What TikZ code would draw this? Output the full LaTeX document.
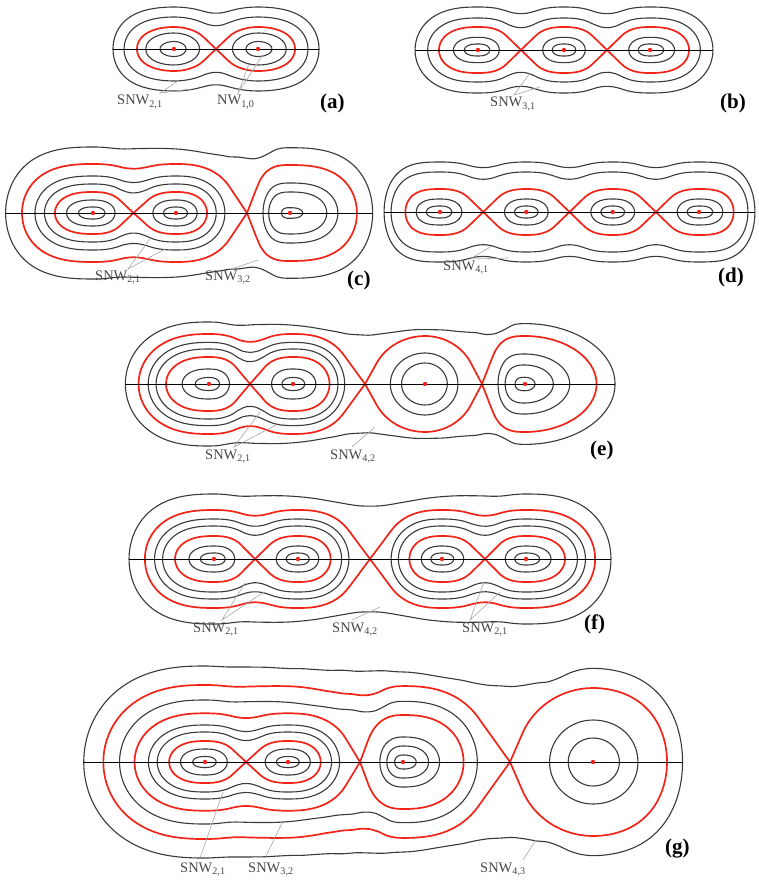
\documentclass[tikz,border=0pt]{standalone}
\usepackage{tikz}
\usepackage{fontspec}
\setmainfont{Liberation Serif}
\definecolor{crv}{RGB}{58,58,58}
\definecolor{sep}{RGB}{242,36,24}
\definecolor{labc}{RGB}{72,72,72}
\definecolor{lead}{RGB}{168,168,168}
\makeatletter
\newcount\bisecti
\def\halfpow#1#2#3{\ifcase#2\relax\def#1{1}\or\pgfmathsetmacro#1{sqrt(#3)}\or\edef#1{#3}\or\pgfmathsetmacro#1{#3*sqrt(#3)}\fi}
\def\vpowparse{\ifcase\vke\relax
  \pgfmathparse{\vd+\vA*\vu*\vu+(\vQ*\vu*\vu)*(\vQ*\vu*\vu)}\or
  \pgfmathparse{\vd+\vA*\vu*\vu*sqrt(\vu)+(\vQ*\vu*\vu)*(\vQ*\vu*\vu)}\or
  \pgfmathparse{\vd+\vA*\vu*\vu*\vu+(\vQ*\vu*\vu)*(\vQ*\vu*\vu)}\or
  \pgfmathparse{\vd+\vA*\vu*\vu*\vu*sqrt(\vu)+(\vQ*\vu*\vu)*(\vQ*\vu*\vu)}\fi}
\pgfmathdeclarefunction{VV}{1}{%
  \begingroup
  \edef\vx{#1}%
  \edef\vcf{\csname cw0\endcsname}%
  \edef\vcl{\csname cw\NWl\endcsname}%
  \ifdim\vx pt<\vcf pt
    \edef\vu{\strip@pt\dimexpr(\vcf pt-\vx pt)/10\relax}%
    \edef\vd{\csname dw0\endcsname}%
    \let\vA\EAL\let\vke\EKL\let\vQ\EQL
    \vpowparse
  \else\ifdim\vx pt>\vcl pt
    \edef\vu{\strip@pt\dimexpr(\vx pt-\vcl pt)/10\relax}%
    \edef\vd{\csname dw\NWl\endcsname}%
    \let\vA\EAR\let\vke\EKR\let\vQ\EQR
    \vpowparse
  \else
    \def\K{0}%
    \ifnum\NW>2 \ifdim\vx pt>\csname cw1\endcsname pt \def\K{1}\fi\fi
    \ifnum\NW>3 \ifdim\vx pt>\csname cw2\endcsname pt \def\K{2}\fi\fi
    \edef\vm{\csname sm\K\endcsname}%
    \edef\vs{\csname ss\K\endcsname}%
    \def\vQ{0}%
    \ifdim\vx pt<\vm pt
      \ifdim\vx pt<\csname pL\K\endcsname pt
        \edef\vc{\csname cw\K\endcsname}%
        \edef\vu{\strip@pt\dimexpr(\vx pt-\vc pt)/10\relax}%
        \edef\vd{\csname dw\K\endcsname}%
        \edef\vA{\csname aL\K\endcsname}%
        \edef\vke{\csname kw\K\endcsname}%
        \vpowparse
      \else
        \edef\vB{\csname bL\K\endcsname}%
        \edef\vw{\strip@pt\dimexpr(\vm pt-\vx pt)/10\relax}%
        \pgfmathparse{\vs-\vB*\vw*\vw}%
      \fi
    \else
      \edef\Kn{\the\numexpr\K+1\relax}%
      \ifdim\vx pt>\csname pR\K\endcsname pt
        \edef\vc{\csname cw\Kn\endcsname}%
        \edef\vu{\strip@pt\dimexpr(\vc pt-\vx pt)/10\relax}%
        \edef\vd{\csname dw\Kn\endcsname}%
        \edef\vA{\csname aR\K\endcsname}%
        \edef\vke{\csname kw\Kn\endcsname}%
        \vpowparse
      \else
        \edef\vB{\csname bR\K\endcsname}%
        \edef\vw{\strip@pt\dimexpr(\vx pt-\vm pt)/10\relax}%
        \pgfmathparse{\vs-\vB*\vw*\vw}%
      \fi
    \fi
  \fi\fi
  \pgfmath@smuggleone\pgfmathresult
  \endgroup}
% smoothed potential (for the outer curves), tapered to zero at the outer wells
\pgfmathdeclarefunction{VS}{1}{%
  \begingroup
  \pgfmathsetmacro\lw{\smw*min(1,max(0,(#1-\smL)/50))*min(1,max(0,(\smR-#1)/50))}%
  \ifdim\lw pt<0.5pt
    \pgfmathparse{VV(#1)}%
  \else
    \pgfmathparse{(VV(#1-\lw)+2*VV(#1-\lw/2)+3*VV(#1)+2*VV(#1+\lw/2)+VV(#1+\lw))/9}%
  \fi
  \pgfmath@smuggleone\pgfmathresult
  \endgroup}
\newcommand\findroot[4]{%
  \edef\frin{#3}\edef\frout{#4}%
  \bisecti=0
  \loop
    \edef\frmid{\strip@pt\dimexpr(\frin pt+\frout pt)/2\relax}%
    \pgfmathparse{\rootfn(\frmid)}%
    \ifdim\pgfmathresult pt>#2pt \let\frout\frmid \else \let\frin\frmid \fi
    \advance\bisecti by 1
  \ifnum\bisecti<17 \repeat
  \edef#1{\frin}}
\makeatother
\def\rootfn{VV}\def\smw{0}\def\smL{0}\def\smR{0}
\newcommand\setNW[1]{\def\NW{#1}\edef\NWl{\the\numexpr#1-1\relax}}
\newcommand\setends[6]{\def\EAL{#1}\def\EKL{#2}\def\EQL{#3}\def\EAR{#4}\def\EKR{#5}\def\EQR{#6}}
\newcommand\defwell[4]{\expandafter\def\csname cw#1\endcsname{#2}\expandafter\def\csname dw#1\endcsname{#3}\expandafter\def\csname kw#1\endcsname{#4}}
\newcommand\segconst[6]{% c, m, s, d, phi, k
  \pgfmathsetmacro\tL{abs(#2-#1)/10}%
  \pgfmathsetmacro\tD{#3-#4}%
  \halfpow\tphk{#6}{#5}%
  \pgfmathsetmacro\tpq{#5*\tphk}%
  \pgfmathsetmacro\tqq{2+#6/2}%
  \pgfmathsetmacro\talpha{1/(\tpq*(#5+\tqq*(1-#5)/2))}%
  \halfpow\tLk{#6}{\tL}%
  \pgfmathsetmacro\tA{\tD*\talpha/(\tL*\tL*\tLk)}%
  \pgfmathsetmacro\tB{\tD*\tqq*\talpha*\tpq/(2*(1-#5))/(\tL*\tL)}}
\newcommand\defsad[5]{% k, m, s, phiL, phiR
  \expandafter\def\csname sm#1\endcsname{#2}%
  \expandafter\def\csname ss#1\endcsname{#3}%
  \edef\tkn{\the\numexpr#1+1\relax}%
  \edef\tc{\csname cw#1\endcsname}\edef\td{\csname dw#1\endcsname}\edef\tq{\csname kw#1\endcsname}%
  \segconst{\tc}{#2}{#3}{\td}{#4}{\tq}%
  \pgfmathsetmacro\tp{\tc+#4*(#2-\tc)}%
  \expandafter\let\csname aL#1\endcsname\tA
  \expandafter\let\csname bL#1\endcsname\tB
  \expandafter\let\csname pL#1\endcsname\tp
  \edef\tc{\csname cw\tkn\endcsname}\edef\td{\csname dw\tkn\endcsname}\edef\tq{\csname kw\tkn\endcsname}%
  \segconst{\tc}{#2}{#3}{\td}{#5}{\tq}%
  \pgfmathsetmacro\tp{\tc-#5*(\tc-#2)}%
  \expandafter\let\csname aR#1\endcsname\tA
  \expandafter\let\csname bR#1\endcsname\tB
  \expandafter\let\csname pR#1\endcsname\tp}
\newcommand\lvlcore[4]{%
  \edef\lci{\csname cw#3\endcsname}\edef\lcj{\csname cw#4\endcsname}%
  \ifnum#3=0 \pgfmathsetmacro\llo{\lci-150}\else\edef\llo{\csname sm\the\numexpr#3-1\relax\endcsname}\fi
  \ifnum#4=\NWl\relax\pgfmathsetmacro\lhi{\lcj+150}\else\edef\lhi{\csname sm#4\endcsname}\fi
  \findroot\ra{#2}{\lci}{\llo}%
  \findroot\rb{#2}{\lcj}{\lhi}%
  \pgfmathtruncatemacro\ns{max(40,min(140,(\rb-\ra)*0.4))}%
  \pgfmathsetmacro\dend{360-360/\ns}%
  \draw[#1] plot[smooth cycle,domain=0:\dend,samples=\ns,variable=\t]
    ({\ra+(\rb-\ra)*(1-cos(\t))/2},{((\t<180)?(-10):(10))*sqrt(max(0,#2-\rootfn(\ra+(\rb-\ra)*(1-cos(\t))/2)))});%
}
\newcommand\lvl[4][bk]{\def\rootfn{VV}\lvlcore{#1}{#2}{#3}{#4}}
\newcommand\lvls[5][bk]{\def\rootfn{VS}\def\smw{#5}\edef\smL{\csname cw#3\endcsname}\edef\smR{\csname cw#4\endcsname}\lvlcore{#1}{#2}{#3}{#4}\def\rootfn{VV}}
\begin{document}
\begin{tikzpicture}[x=1pt,y=-1pt,
  bk/.style={draw=crv,line width=1.1pt},
  rd/.style={draw=sep,line width=1.7pt},
  ax/.style={draw=black,line width=0.9pt},
  rdot/.style={fill=sep},
  leader/.style={draw=lead,line width=0.6pt},
  lab/.style={font=\fontsize{14.5}{17}\selectfont,text=labc,inner sep=0pt,anchor=base west},
  plab/.style={font=\fontsize{21}{24}\selectfont\bfseries,text=black,inner sep=0pt,anchor=base west}]
\fill[white] (0,0) rectangle (758,882);
\useasboundingbox (0,0) rectangle (758,882);

% ---------- (a)
\begin{scope}[shift={(0,49)}]
\setNW{2}
\defwell{0}{174}{0}{0}\defwell{1}{258}{0}{0}
\defsad{0}{216}{4.84}{0.7}{0.7}
\setends{0.28}{0}{0.0722}{0.28}{0}{0.0722}
\lvl{0.5625}{0}{0}\lvl{2.56}{0}{0}\lvl{0.5625}{1}{1}\lvl{2.56}{1}{1}
\lvl[rd]{4.84}{0}{0}\lvl[rd]{4.84}{1}{1}
\lvl{10.24}{0}{1}
\lvl{17.64}{0}{1}
\draw[ax] (\ra,0) -- (\rb,0);
\foreach \xx in {174,258} \fill[rdot] (\xx,0) circle (2.2);
\end{scope}

% ---------- (b)
\begin{scope}[shift={(0,50)}]
\setNW{3}
\defwell{0}{478}{0}{1}\defwell{1}{564}{0}{1}\defwell{2}{650}{0}{1}
\defsad{0}{521}{5.29}{0.65}{0.65}\defsad{1}{607}{5.29}{0.65}{0.65}
\setends{0.165}{1}{0.0365}{0.165}{1}{0.0365}
\lvl{0.36}{0}{0}\lvl{1.6}{0}{0}\lvl{0.36}{1}{1}\lvl{1.6}{1}{1}\lvl{0.36}{2}{2}\lvl{1.6}{2}{2}
\lvl[rd]{5.29}{0}{0}\lvl[rd]{5.29}{1}{1}\lvl[rd]{5.29}{2}{2}
\lvl{10.24}{0}{2}
\lvl{18.49}{0}{2}
\draw[ax] (\ra,0) -- (\rb,0);
\foreach \xx in {478,564,650} \fill[rdot] (\xx,0) circle (2.2);
\end{scope}

% ---------- (c)
\begin{scope}[shift={(0,213)}]
\setNW{3}
\defwell{0}{93}{0}{1}\defwell{1}{176}{0}{1}\defwell{2}{290}{0.97}{2}
\defsad{0}{133.5}{4.41}{0.65}{0.65}\defsad{1}{247}{24.01}{0.75}{0.75}
\setends{0.14}{1}{0.0453}{0.15}{1}{0.053}
\lvl{0.36}{0}{0}\lvl{1.69}{0}{0}\lvl{0.36}{1}{1}\lvl{1.69}{1}{1}
\lvl[rd]{4.41}{0}{0}\lvl[rd]{4.41}{1}{1}
\lvl{8.41}{0}{1}\lvl{13.69}{0}{1}
\lvl{1.25}{2}{2}\lvl{5.38}{2}{2}\lvl{9.97}{2}{2}
\lvl[rd]{24.01}{0}{1}\lvl[rd]{24.01}{2}{2}
\lvls{43.56}{0}{2}{45}
\draw[ax] (\ra,0) -- (\rb,0);
\foreach \xx in {93,176,290} \fill[rdot] (\xx,0) circle (2.2);
\end{scope}

% ---------- (d)
\begin{scope}[shift={(0,212)}]
\setNW{4}
\defwell{0}{440}{0}{1}\defwell{1}{526.3}{0}{1}\defwell{2}{612.7}{0}{1}\defwell{3}{699}{0}{1}
\defsad{0}{483.2}{5.29}{0.65}{0.65}\defsad{1}{569.5}{5.29}{0.65}{0.65}\defsad{2}{655.9}{5.29}{0.65}{0.65}
\setends{0.14}{1}{0.1225}{0.14}{1}{0.1225}
\lvl{0.36}{0}{0}\lvl{1.69}{0}{0}\lvl{0.36}{1}{1}\lvl{1.69}{1}{1}
\lvl{0.36}{2}{2}\lvl{1.69}{2}{2}\lvl{0.36}{3}{3}\lvl{1.69}{3}{3}
\lvl[rd]{5.29}{0}{0}\lvl[rd]{5.29}{1}{1}\lvl[rd]{5.29}{2}{2}\lvl[rd]{5.29}{3}{3}
\lvl{16}{0}{3}
\lvl{25}{0}{3}
\draw[ax] (\ra,0) -- (\rb,0);
\foreach \xx in {440,526.3,612.7,699} \fill[rdot] (\xx,0) circle (2.2);
\end{scope}

% ---------- (e)
\begin{scope}[shift={(0,384)}]
\setNW{4}
\defwell{0}{209}{0}{1}\defwell{1}{293}{0}{1}\defwell{2}{425}{1.96}{0}\defwell{3}{525}{1.96}{2}
\defsad{0}{250}{7.29}{0.65}{0.65}\defsad{1}{365}{25}{0.7}{0.8}\defsad{2}{482}{25}{0.8}{0.75}
\setends{0.19}{1}{0}{0.45}{0}{0}
\lvl{0.42}{0}{0}\lvl{2.25}{0}{0}\lvl{0.42}{1}{1}\lvl{2.25}{1}{1}
\lvl[rd]{7.29}{0}{0}\lvl[rd]{7.29}{1}{1}
\lvl{12.25}{0}{1}\lvl{17.3}{0}{1}
\lvl{6.37}{2}{2}\lvl{11.57}{2}{2}
\lvl{2.41}{3}{3}\lvl{5.57}{3}{3}\lvl{10.96}{3}{3}
\lvl[rd]{25}{0}{1}\lvl[rd]{25}{2}{2}\lvl[rd]{25}{3}{3}
\lvls{38.44}{0}{3}{50}
\draw[ax] (\ra,0) -- (\rb,0);
\foreach \xx in {209,293,425,525} \fill[rdot] (\xx,0) circle (2.2);
\end{scope}

% ---------- (f)
\begin{scope}[shift={(0,559)}]
\setNW{4}
\defwell{0}{214}{0}{1}\defwell{1}{298}{0}{1}\defwell{2}{442}{0}{1}\defwell{3}{526}{0}{1}
\defsad{0}{255}{5.29}{0.65}{0.65}\defsad{1}{370}{24.01}{0.7}{0.7}\defsad{2}{485}{5.29}{0.65}{0.65}
\setends{0.165}{1}{0.038}{0.165}{1}{0.038}
\lvl{0.36}{0}{0}\lvl{1.69}{0}{0}\lvl{0.36}{1}{1}\lvl{1.69}{1}{1}
\lvl{0.36}{2}{2}\lvl{1.69}{2}{2}\lvl{0.36}{3}{3}\lvl{1.69}{3}{3}
\lvl[rd]{5.29}{0}{0}\lvl[rd]{5.29}{1}{1}\lvl[rd]{5.29}{2}{2}\lvl[rd]{5.29}{3}{3}
\lvl{10.89}{0}{1}\lvl{16}{0}{1}\lvl{10.89}{2}{3}\lvl{16}{2}{3}
\lvl[rd]{24.01}{0}{1}\lvl[rd]{24.01}{2}{3}
\lvls{42.25}{0}{3}{50}
\draw[ax] (\ra,0) -- (\rb,0);
\foreach \xx in {214,298,442,526} \fill[rdot] (\xx,0) circle (2.2);
\end{scope}

% ---------- (g)
\begin{scope}[shift={(0,762)}]
\setNW{4}
\defwell{0}{205}{0}{1}\defwell{1}{288}{0}{1}\defwell{2}{403}{1.63}{1}\defwell{3}{593}{4.53}{0}
\defsad{0}{246}{4.41}{0.65}{0.65}\defsad{1}{360}{23.72}{0.8}{0.8}\defsad{2}{510}{59.29}{0.7}{0.85}
\setends{0.18}{1}{0}{0.8}{0}{0.0604}
\lvl{0.3}{0}{0}\lvl{1.69}{0}{0}\lvl{0.3}{1}{1}\lvl{1.69}{1}{1}
\lvl[rd]{4.41}{0}{0}\lvl[rd]{4.41}{1}{1}
\lvl{9}{0}{1}\lvl{13.69}{0}{1}
\lvl{2.12}{2}{2}\lvl{4.19}{2}{2}\lvl{7.88}{2}{2}
\lvl[rd]{23.72}{0}{1}\lvl[rd]{23.72}{2}{2}
\lvls{38.44}{0}{2}{50}
\lvl{10.29}{3}{3}\lvl{22.17}{3}{3}
\lvls[rd]{59.29}{0}{2}{40}\lvl[rd]{59.29}{3}{3}
\lvls{92.16}{0}{3}{70}
\draw[ax] (\ra,0) -- (\rb,0);
\foreach \xx in {205,288,403,593} \fill[rdot] (\xx,0) circle (2.2);
\end{scope}

% ---------- labels
\node[lab] (la1) at (117,105) {SNW\textsubscript{2,1}};
\node[lab] (la2) at (217,105) {NW\textsubscript{1,0}};
\node[plab] (pa) at (320,109) {(a)};
\coordinate (la1s) at (160,93); \coordinate (la1e1) at (178,81); \coordinate (la1e2) at (192,89);
\coordinate (la2s) at (238,93); \coordinate (la2e1) at (249,64); \coordinate (la2e2) at (262,56);
\draw[leader] (la1e1) -- (la1s) -- (la1e2);
\draw[leader] (la2e1) -- (la2s) -- (la2e2);

\node[lab] (lb1) at (490,107) {SNW\textsubscript{3,1}};
\node[plab] (pb) at (720,109) {(b)};
\coordinate (lb1s) at (514,95); \coordinate (lb1e1) at (530,73); \coordinate (lb1e2) at (540,87);
\draw[leader] (lb1e1) -- (lb1s) -- (lb1e2);

\node[lab] (lc1) at (95,280) {SNW\textsubscript{2,1}};
\node[lab] (lc2) at (205,280) {SNW\textsubscript{3,2}};
\node[plab] (pc) at (347,285) {(c)};
\coordinate (lc1s) at (128,269); \coordinate (lc1e1) at (150,239); \coordinate (lc1e2) at (165,249);
\coordinate (lc2s) at (232,269); \coordinate (lc2e) at (258,260);
\draw[leader] (lc1e1) -- (lc1s) -- (lc1e2);
\draw[leader] (lc2s) -- (lc2e);

\node[lab] (ld1) at (443,270) {SNW\textsubscript{4,1}};
\node[plab] (pd) at (718,283) {(d)};
\coordinate (ld1s) at (470,259); \coordinate (ld1e1) at (492,246); \coordinate (ld1e2) at (508,258);
\draw[leader] (ld1e1) -- (ld1s) -- (ld1e2);

\node[lab] (le1) at (205,459) {SNW\textsubscript{2,1}};
\node[lab] (le2) at (330,459) {SNW\textsubscript{4,2}};
\node[plab] (pe) at (590,455) {(e)};
\coordinate (le1s) at (234,447); \coordinate (le1e1) at (260,412); \coordinate (le1e2) at (276,425);
\coordinate (le2s) at (352,447); \coordinate (le2e) at (375,427);
\draw[leader] (le1e1) -- (le1s) -- (le1e2);
\draw[leader] (le2s) -- (le2e);

\node[lab] (lf1) at (193,632) {SNW\textsubscript{2,1}};
\node[lab] (lf2) at (332,632) {SNW\textsubscript{4,2}};
\node[lab] (lf3) at (462,632) {SNW\textsubscript{2,1}};
\node[plab] (pf) at (584,629) {(f)};
\coordinate (lf1s) at (222,620); \coordinate (lf1e1) at (245,583); \coordinate (lf1e2) at (264,592);
\coordinate (lf2s) at (352,620); \coordinate (lf2e) at (380,607);
\coordinate (lf3s) at (470,620); \coordinate (lf3e1) at (484,582); \coordinate (lf3e2) at (500,592);
\draw[leader] (lf1e1) -- (lf1s) -- (lf1e2);
\draw[leader] (lf2s) -- (lf2e);
\draw[leader] (lf3e1) -- (lf3s) -- (lf3e2);

\node[lab] (lg1) at (180,872) {SNW\textsubscript{2,1}};
\node[lab] (lg2) at (248,872) {SNW\textsubscript{3,2}};
\node[lab] (lg3) at (480,872) {SNW\textsubscript{4,3}};
\node[plab] (pg) at (665,853) {(g)};
\coordinate (lg1s) at (200,858); \coordinate (lg1e) at (223,792);
\coordinate (lg2s) at (265,858); \coordinate (lg2e) at (282,823);
\coordinate (lg3s) at (523,860); \coordinate (lg3e) at (536,840);
\draw[leader] (lg1s) -- (lg1e);
\draw[leader] (lg2s) -- (lg2e);
\draw[leader] (lg3s) -- (lg3e);
\end{tikzpicture}
\end{document}
